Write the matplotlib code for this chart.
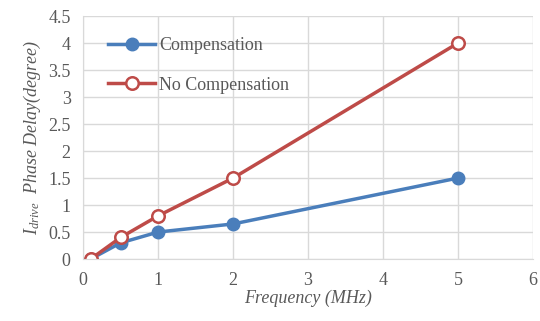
import matplotlib.pyplot as plt

plt.rcParams['font.family'] = ['Liberation Serif', 'DejaVu Serif']
plt.rcParams['mathtext.fontset'] = 'custom'
plt.rcParams['mathtext.rm'] = 'Liberation Serif'
plt.rcParams['mathtext.it'] = 'Liberation Serif:italic'

freq = [0.1, 0.5, 1, 2, 5]
comp = [0, 0.3, 0.5, 0.65, 1.5]
no_comp = [0, 0.4, 0.8, 1.5, 4.0]

blue = '#4a7ebb'
red = '#be4b48'
grey = '#595959'

fig = plt.figure(figsize=(5.4, 3.21), dpi=100)
ax = fig.add_axes([0.154, 0.193, 0.833, 0.757])

ax.plot(freq, comp, '-o', color=blue, lw=2.5, ms=9, label='Compensation')
ax.plot(freq, no_comp, '-o', color=red, lw=2.5, ms=9, mfc='white', mew=1.8,
        label='No Compensation')

ax.set_xlim(0, 6)
ax.set_ylim(0, 4.5)
ax.set_xticks(range(0, 7))
ax.set_yticks([0, 0.5, 1, 1.5, 2, 2.5, 3, 3.5, 4, 4.5])
ax.set_yticklabels(['0', '0.5', '1', '1.5', '2', '2.5', '3', '3.5', '4', '4.5'])
ax.grid(color='#d9d9d9', lw=1)
ax.set_axisbelow(True)
for s in ['top', 'right']:
    ax.spines[s].set_visible(False)
ax.spines['left'].set_color('#d9d9d9')
ax.spines['bottom'].set_color('#d9d9d9')
ax.tick_params(length=0, labelsize=13, colors=grey, pad=9)

ax.set_xlabel('Frequency (MHz)', fontsize=13, style='italic', color=grey, labelpad=1)
ax.set_ylabel(r'$I_{drive}$  Phase Delay(degree)', fontsize=13, style='italic',
              color=grey, labelpad=4)

leg = ax.legend(loc='upper left', bbox_to_anchor=(0.02, 0.98), frameon=False,
                fontsize=13, labelspacing=1.25, handlelength=2.6, handletextpad=0.2)
for t in leg.get_texts():
    t.set_color(grey)

fig.savefig('out.png', dpi=100)
